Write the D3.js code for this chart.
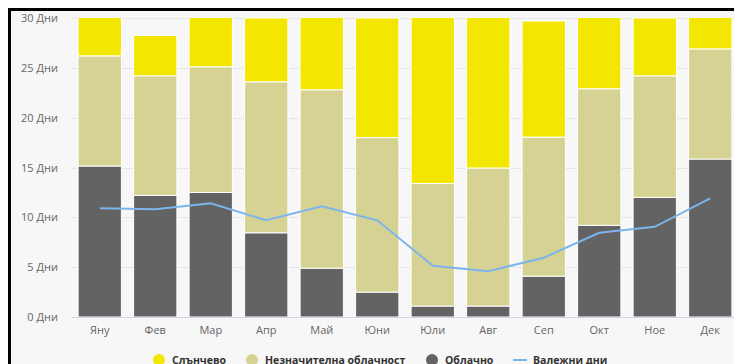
<!DOCTYPE html>
<html>
<head>
<meta charset="utf-8">
<script src="https://cdn.jsdelivr.net/npm/d3@7"></script>
<style>
  html, body { margin: 0; padding: 0; background: #ffffff; overflow: hidden; }
  svg { display: block; }
  text { font-family: "Open Sans", "DejaVu Sans", sans-serif; }
</style>
</head>
<body>
<svg id="chart" width="734" height="364"></svg>
<script>
// Monthly climate summary: sky condition days (stacked) and precipitation days (line)
const months = ["Яну", "Фев", "Мар", "Апр", "Май", "Юни", "Юли", "Авг", "Сеп", "Окт", "Ное", "Дек"];
const overcast = [15.15, 12.2, 12.5, 8.45, 4.9, 2.5, 1.1, 1.1, 4.1, 9.2, 12.0, 15.85];
const partlyCloudy = [11.05, 12.0, 12.6, 15.15, 17.9, 15.5, 12.3, 13.85, 13.95, 13.7, 12.2, 11.05];
const sunny = [4.8, 4.05, 5.9, 6.4, 8.2, 12.0, 17.6, 16.05, 11.65, 8.1, 5.8, 4.1];
const precipDays = [10.9, 10.8, 11.4, 9.7, 11.1, 9.7, 5.15, 4.6, 5.95, 8.45, 9.05, 11.9];
const yTicks = [0, 5, 10, 15, 20, 25, 30];
const seriesNames = ["Слънчево", "Незначителна облачност", "Облачно", "Валежни дни"];
const colors = { sunny: "#f3e600", partly: "#d6d293", overcast: "#636363", precip: "#7cb5ec" };

const svg = d3.select("#chart");
const plot = { left: 72, right: 738, top: 18, bottom: 317 };

// frame
svg.append("rect").attr("x", 9.5).attr("y", 9.5).attr("width", 760).attr("height", 400)
  .attr("fill", "#f7f7f7").attr("stroke", "#000").attr("stroke-width", 3);

const x = d3.scaleBand().domain(months).range([plot.left, plot.right]).paddingInner(0.22).paddingOuter(0.11);
const y = d3.scaleLinear().domain([0, 30]).range([plot.bottom, plot.top]);

// gridlines
svg.append("g").selectAll("line").data(yTicks).join("line")
  .attr("x1", plot.left).attr("x2", plot.right)
  .attr("y1", d => Math.round(y(d)) + 0.5).attr("y2", d => Math.round(y(d)) + 0.5)
  .attr("stroke", "#e6e6e6").attr("stroke-width", 1);

// y labels
svg.append("g").selectAll("text").data(yTicks).join("text")
  .attr("x", 58).attr("y", d => y(d) + 4)
  .attr("text-anchor", "end").attr("font-size", 11).attr("fill", "#666666")
  .text(d => d + " Дни");

// clip
svg.append("clipPath").attr("id", "plotClip").append("rect")
  .attr("x", plot.left).attr("y", plot.top).attr("width", plot.right - plot.left).attr("height", plot.bottom - plot.top);

const rows = months.map((m, i) => ({ month: m, overcast: overcast[i], partly: partlyCloudy[i], sunny: sunny[i] }));
const stacked = d3.stack().keys(["overcast", "partly", "sunny"])(rows);
const keyColor = { overcast: colors.overcast, partly: colors.partly, sunny: colors.sunny };

const barsG = svg.append("g").attr("clip-path", "url(#plotClip)");
barsG.selectAll("g").data(stacked).join("g")
  .attr("fill", d => keyColor[d.key])
  .selectAll("rect").data(d => d).join("rect")
  .attr("x", d => x(d.data.month))
  .attr("width", x.bandwidth())
  .attr("y", d => y(d[1]))
  .attr("height", d => y(d[0]) - y(d[1]))
  .attr("stroke", "#ffffff").attr("stroke-width", 1);

// x axis line
svg.append("line").attr("x1", plot.left).attr("x2", plot.right)
  .attr("y1", plot.bottom + 0.5).attr("y2", plot.bottom + 0.5)
  .attr("stroke", "#ccd6eb").attr("stroke-width", 1);

// month labels
svg.append("g").selectAll("text").data(months).join("text")
  .attr("x", d => x(d) + x.bandwidth() / 2).attr("y", 334)
  .attr("text-anchor", "middle").attr("font-size", 11).attr("fill", "#666666")
  .text(d => d);

// precipitation line
const line = d3.line().x((d, i) => x(months[i]) + x.bandwidth() / 2).y(d => y(d));
svg.append("path").datum(precipDays).attr("d", line)
  .attr("fill", "none").attr("stroke", colors.precip).attr("stroke-width", 2);

// legend
const legend = svg.append("g").attr("font-size", 10.5).attr("font-weight", "bold").attr("fill", "#333333");
const legendItems = [
  { name: seriesNames[0], color: colors.sunny, type: "dot", x: 159 },
  { name: seriesNames[1], color: colors.partly, type: "dot", x: 252 },
  { name: seriesNames[2], color: colors.overcast, type: "dot", x: 432 },
  { name: seriesNames[3], color: colors.precip, type: "line", x: 520 }
];
legendItems.forEach(it => {
  if (it.type === "dot") {
    legend.append("circle").attr("cx", it.x).attr("cy", 360).attr("r", 6).attr("fill", it.color);
  } else {
    legend.append("line").attr("x1", it.x - 7).attr("x2", it.x + 7).attr("y1", 360).attr("y2", 360)
      .attr("stroke", it.color).attr("stroke-width", 2);
  }
  legend.append("text").attr("x", it.x + 13).attr("y", 364).text(it.name);
});
</script>
</body>
</html>
